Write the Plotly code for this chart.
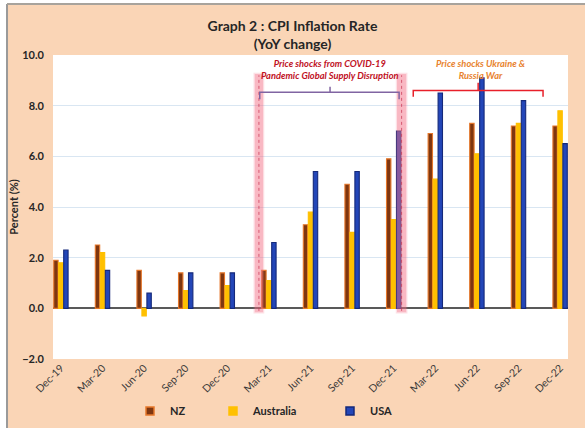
import plotly.graph_objects as go

# Quarterly CPI inflation, year-on-year %
quarters = ["Dec-19", "Mar-20", "Jun-20", "Sep-20", "Dec-20", "Mar-21", "Jun-21",
            "Sep-21", "Dec-21", "Mar-22", "Jun-22", "Sep-22", "Dec-22"]
nz = [1.9, 2.5, 1.5, 1.4, 1.4, 1.5, 3.3, 4.9, 5.9, 6.9, 7.3, 7.2, 7.2]
australia = [1.8, 2.2, -0.3, 0.7, 0.9, 1.1, 3.8, 3.0, 3.5, 5.1, 6.1, 7.3, 7.8]
usa = [2.3, 1.5, 0.6, 1.4, 1.4, 2.6, 5.4, 5.4, 7.0, 8.5, 9.1, 8.2, 6.5]

y_ticks = [-2, 0, 2, 4, 6, 8, 10]

PEACH = "#FAD5B6"
FONT = "Lato"
idx = list(range(len(quarters)))

series = [
    ("NZ", nz, "#7E3610", "#E6772A", "legend"),
    ("Australia", australia, "#FFC000", "#FFC000", "legend2"),
    ("USA", usa, "#2346B8", "#15297A", "legend3"),
]

fig = go.Figure()
for name, vals, fill, edge, leg in series:
    fig.add_trace(go.Bar(
        x=idx, y=vals, name=name, showlegend=False,
        marker=dict(color=fill, line=dict(color=edge, width=1.1)),
    ))
    # legend entry with a small square key
    fig.add_trace(go.Scatter(
        x=[None], y=[None], mode="markers", name=name, legend=leg,
        marker=dict(symbol="square", size=8, color=fill,
                    line=dict(color=edge, width=1.5)),
    ))

shapes = []
# frame strip along the top and left edges
shapes.append(dict(type="rect", xref="paper", yref="paper", x0=-0.2, x1=-0.0893,
                   y0=-0.3, y1=1.3, fillcolor="white", line=dict(width=0), layer="below"))
shapes.append(dict(type="rect", xref="paper", yref="paper", x0=-0.2, x1=1.2,
                   y0=1.168, y1=1.3, fillcolor="white", line=dict(width=0), layer="below"))
shapes.append(dict(type="line", xref="paper", yref="paper", x0=-0.0893, x1=-0.0893,
                   y0=-0.3, y1=1.168, line=dict(color="#9A9A9A", width=2)))
shapes.append(dict(type="line", xref="paper", yref="paper", x0=-0.0893, x1=1.2,
                   y0=1.168, y1=1.168, line=dict(color="#A8A39C", width=2)))

# highlighted bands marking the COVID-19 supply-shock window
for x0, x1 in [(4.66, 4.86), (8.08, 8.30)]:
    shapes.append(dict(type="rect", xref="x", yref="y", x0=x0 - 0.03, x1=x1 + 0.03,
                       y0=-0.2, y1=9.3, fillcolor="rgba(245,120,140,0.22)",
                       line=dict(width=0), layer="above"))
    shapes.append(dict(type="rect", xref="x", yref="y", x0=x0, x1=x1,
                       y0=-0.15, y1=9.25, fillcolor="rgba(240,110,130,0.35)",
                       line=dict(width=0), layer="above"))
    xm = (x0 + x1) / 2
    shapes.append(dict(type="line", xref="x", yref="y", x0=xm, x1=xm, y0=-0.1, y1=9.2,
                       line=dict(color="rgba(200,50,80,0.7)", width=1, dash="dot"),
                       layer="above"))

# purple bracket over the COVID-19 period
shapes.append(dict(type="path", xref="x", yref="y",
                   path="M 4.78,8.25 L 4.78,8.53 L 8.13,8.53 L 8.13,8.25",
                   line=dict(color="#8064A2", width=1.5)))
shapes.append(dict(type="line", xref="x", yref="y", x0=6.47, x1=6.47, y0=8.53, y1=8.75,
                   line=dict(color="#8064A2", width=1.5)))
# red bracket over the Ukraine war period
shapes.append(dict(type="path", xref="x", yref="y",
                   path="M 8.47,8.35 L 8.47,8.6 L 11.59,8.6 L 11.59,8.35",
                   line=dict(color="#E8202A", width=1.5)))
shapes.append(dict(type="line", xref="x", yref="y", x0=10.03, x1=10.03, y0=8.6, y1=8.9,
                   line=dict(color="#E8202A", width=1.5)))

annotations = [
    dict(x=6.47, y=9.43, xref="x", yref="y", showarrow=False,
         text="<b><i>Price shocks from COVID-19<br>Pandemic Global Supply Disruption</i></b>",
         font=dict(family=FONT, size=9.3, color="#C0101E")),
    dict(x=10.08, y=9.43, xref="x", yref="y", showarrow=False,
         text="<b><i>Price shocks Ukraine &<br>Russia War</i></b>",
         font=dict(family=FONT, size=9.3, color="#E8822E")),
]

fig.update_layout(
    width=585, height=428,
    margin=dict(l=53, r=17, t=55, b=69, autoexpand=False),
    paper_bgcolor=PEACH, plot_bgcolor="white",
    font=dict(family=FONT, color="#262626"),
    title=dict(text="<b>Graph 2 : CPI Inflation Rate<br>(YoY change)</b>",
               x=0.5, xref="container", y=1 - 31 / 428, yref="container",
               yanchor="middle",
               font=dict(family=FONT, size=14, color="#262626")),
    barmode="group", bargap=0.64, bargroupgap=0.12,
    shapes=shapes, annotations=annotations,
    xaxis=dict(tickmode="array", tickvals=idx, ticktext=quarters, tickangle=-45,
               range=[-0.19, 12.19], showgrid=False, zeroline=False, showline=False,
               ticks="", automargin=False,
               tickfont=dict(family=FONT, size=10.5, color="#3A3A3A")),
    yaxis=dict(range=[-2, 10], tickvals=y_ticks, tickformat=".1f", automargin=False,
               gridcolor="#D9E6F2", gridwidth=1, zeroline=True, zerolinecolor="#595959",
               zerolinewidth=1.5, showline=False, ticks="", ticklabelstandoff=8,
               tickfont=dict(family=FONT, size=11, color="#262626", weight="bold"),
               title=dict(text="<b>Percent (%)</b>", standoff=1,
                          font=dict(family=FONT, size=11, color="#262626"))),
)

legend_common = dict(orientation="h", xref="container", yref="container",
                     y=1 - 411 / 428, yanchor="middle",
                     xanchor="left", bgcolor="rgba(0,0,0,0)", itemwidth=30,
                     font=dict(family=FONT, size=11, color="#262626", weight="bold"))
fig.update_layout(
    legend=dict(legend_common, x=130 / 585),
    legend2=dict(legend_common, x=213 / 585),
    legend3=dict(legend_common, x=330 / 585),
)

fig.write_html("out.html")
